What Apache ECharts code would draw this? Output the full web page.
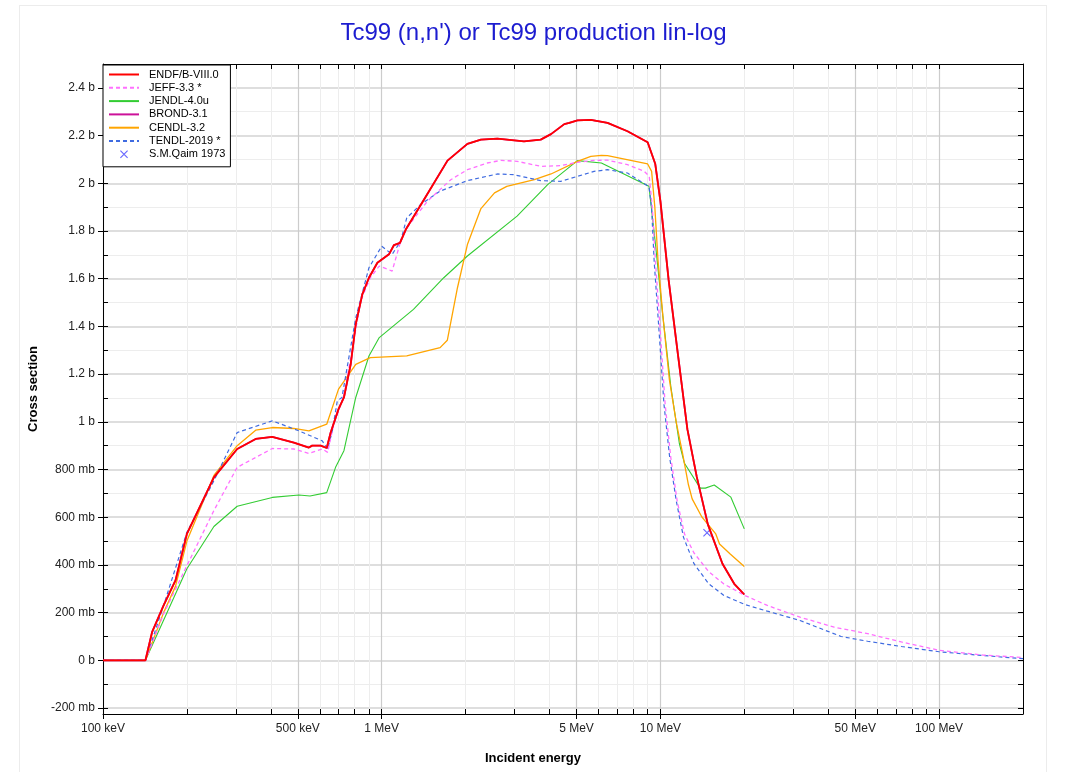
<!DOCTYPE html>
<html lang="en">
<head>
<meta charset="UTF-8">
<title>Tc99 (n,n') or Tc99 production lin-log</title>
<style>
html, body { margin: 0; padding: 0; background: #fff; }
#frame { position: absolute; left: 19px; top: 5px; width: 1026px; height: 800px; border: 1px solid #ececec; }
#chart { position: absolute; left: 0; top: 0; width: 1067px; height: 772px; }
</style>
</head>
<body>
<div id="frame"></div>
<div id="chart"></div>
<script src="https://cdn.jsdelivr.net/npm/echarts@6/dist/echarts.min.js"></script>
<script>
// energies in MeV, cross sections in mb
var endfE  = [0.1, 0.142, 0.150, 0.165, 0.182, 0.2, 0.25, 0.303, 0.353, 0.405, 0.484, 0.548, 0.563, 0.604, 0.635, 0.656, 0.70, 0.732, 0.774, 0.807, 0.852, 0.90, 0.965, 1.062, 1.107, 1.163, 1.22, 1.419, 1.722, 2.03, 2.27, 2.60, 3.24, 3.72, 4.05, 4.52, 4.71, 5.04, 5.63, 6.46, 7.62, 9.0, 9.58, 10.0, 10.7, 11.6, 12.5, 13.5, 14.8, 16.7, 18.4, 20.0];
var endfXS = [0, 0, 118, 230, 335, 530, 767, 886, 928, 937, 913, 892, 900, 900, 890, 955, 1053, 1102, 1241, 1409, 1534, 1604, 1667, 1702, 1741, 1750, 1806, 1932, 2095, 2165, 2183, 2187, 2176, 2183, 2206, 2248, 2253, 2264, 2266, 2253, 2218, 2172, 2082, 1925, 1596, 1268, 968, 770, 570, 405, 321, 276];

var jeffE  = [0.1, 0.142, 0.165, 0.2, 0.25, 0.303, 0.405, 0.484, 0.548, 0.612, 0.64, 0.673, 0.732, 0.794, 0.84, 0.91, 0.98, 1.09, 1.17, 1.23, 1.46, 1.77, 2.03, 2.39, 2.68, 3.06, 3.72, 4.39, 5.04, 5.78, 6.46, 7.62, 8.75, 9.12, 9.35, 9.6, 10.0, 10.4, 10.9, 11.5, 12.2, 13.2, 14.9, 16.9, 20.1, 24.2, 31.7, 42, 55.4, 73.2, 100, 144, 200];
var jeffXS = [0, 0, 195, 397, 628, 809, 888, 886, 867, 886, 872, 990, 1110, 1339, 1506, 1604, 1653, 1632, 1757, 1813, 1925, 2015, 2057, 2085, 2096, 2092, 2071, 2074, 2088, 2096, 2097, 2078, 2050, 2029, 1900, 1671, 1372, 1073, 849, 665, 530, 450, 372, 320, 272, 230, 181, 139, 112, 77, 42, 22, 12];

var jendlE  = [0.1, 0.142, 0.2, 0.25, 0.303, 0.405, 0.505, 0.553, 0.635, 0.683, 0.732, 0.807, 0.90, 0.98, 1.30, 1.67, 2.03, 3.06, 3.94, 5.04, 6.14, 9.1, 9.6, 10.2, 10.9, 11.7, 12.2, 13.9, 14.5, 15.6, 17.9, 20.0];
var jendlXS = [0, 0, 384, 561, 646, 683, 693, 689, 703, 809, 879, 1102, 1276, 1353, 1471, 1604, 1695, 1862, 1994, 2095, 2085, 1987, 1745, 1446, 1148, 908, 826, 722, 722, 735, 684, 551];

// BROND-3.1 lies under ENDF/B-VIII.0 in the plot
var brondE  = endfE;
var brondXS = endfXS;

var cendlE  = [0.1, 0.142, 0.165, 0.182, 0.2, 0.25, 0.303, 0.353, 0.405, 0.484, 0.548, 0.635, 0.70, 0.807, 0.91, 1.23, 1.62, 1.72, 1.87, 2.03, 2.27, 2.54, 2.81, 3.53, 4.05, 5.04, 5.63, 6.14, 6.46, 9.0, 9.3, 9.55, 9.8, 10.2, 10.77, 11.4, 12.0, 12.6, 13.0, 14.1, 15.8, 16.3, 17.8, 20.0];
var cendlXS = [0, 0, 200, 310, 500, 775, 900, 965, 976, 972, 962, 990, 1137, 1241, 1269, 1276, 1311, 1342, 1562, 1743, 1894, 1960, 1987, 2015, 2039, 2092, 2113, 2117, 2116, 2081, 2050, 1900, 1680, 1446, 1177, 998, 870, 737, 677, 600, 530, 488, 446, 393];

var tendlE  = [0.1, 0.142, 0.165, 0.2, 0.25, 0.303, 0.405, 0.505, 0.612, 0.64, 0.665, 0.693, 0.72, 0.807, 0.90, 1.0, 1.09, 1.17, 1.23, 1.38, 1.62, 2.03, 2.60, 2.97, 3.72, 4.39, 5.04, 5.78, 6.46, 7.62, 9.1, 9.3, 9.5, 9.9, 10.3, 10.8, 11.4, 12.1, 13.2, 14.9, 16.9, 20.1, 24.2, 31.7, 44.5, 55.4, 73.2, 100, 144, 200];
var tendlXS = [0, 0, 230, 537, 753, 955, 1004, 962, 920, 886, 962, 1088, 1102, 1436, 1646, 1736, 1702, 1757, 1855, 1911, 1967, 2011, 2039, 2036, 2011, 2008, 2029, 2050, 2057, 2043, 1985, 1895, 1671, 1372, 1073, 849, 669, 516, 405, 321, 272, 234, 206, 167, 100, 80, 58, 36, 20, 7];

var qaimE  = [14.7];
var qaimXS = [535];

// tick values
var xMajorTicks = [0.1, 0.5, 1, 5, 10, 50, 100];
var xMinorTicks = [0.1, 0.2, 0.3, 0.4, 0.5, 0.6, 0.7, 0.8, 0.9,
                   1, 2, 3, 4, 5, 6, 7, 8, 9,
                   10, 20, 30, 40, 50, 60, 70, 80, 90,
                   100, 200];
var yMajorTicks = [-200, 0, 200, 400, 600, 800, 1000, 1200, 1400, 1600, 1800, 2000, 2200, 2400];
var yMinorTicks = [-200, -100, 0, 100, 200, 300, 400, 500, 600, 700, 800, 900, 1000, 1100, 1200,
                   1300, 1400, 1500, 1600, 1700, 1800, 1900, 2000, 2100, 2200, 2300, 2400, 2500];

function zip(xs, ys) {
	return xs.map(function (x, i) { return [x, ys[i]]; });
}

var font = "'Liberation Sans', Arial, sans-serif";
var clear = 'rgba(0,0,0,0)';
var minorGrid = '#ededed';

function energyLabel(v) {
	var kev = Math.round(v * 1000);
	return kev < 1000 ? kev + ' keV' : Math.round(kev / 1000) + ' MeV';
}
function xsLabel(v) {
	if (v === 0) return '0 b';
	if (Math.abs(v) >= 1000) return (v / 1000) + ' b';
	return v + ' mb';
}
// legend entry for a line: no marker, only the line
function lineEntry(name) {
	return { name: name, itemStyle: { opacity: 0 } };
}

var xBase = { type: 'log', logBase: 10, min: 0.1, max: 200 };
var yBase = { type: 'value', min: -225, max: 2500 };

var myChart = echarts.init(document.getElementById('chart'));

var option = {
	animation: false,
	title: {
		text: "Tc99 (n,n') or Tc99 production lin-log",
		left: 'center',
		top: 16,
		textStyle: { color: '#1c1cd0', fontSize: 24, fontWeight: 'normal', fontFamily: font }
	},
	grid: { left: 103, right: 44, top: 64, bottom: 58, outerBoundsMode: 'none' },
	legend: {
		orient: 'vertical',
		left: 103,
		top: 65,
		backgroundColor: '#fff',
		borderColor: '#000',
		borderWidth: 1,
		borderRadius: 0,
		padding: [4, 5, 7, 5],
		itemWidth: 30,
		itemHeight: 8,
		itemGap: 2.3,
		textStyle: { fontSize: 11, lineHeight: 11, color: '#000', fontFamily: font, padding: [0, 0, 0, 5] },
		data: [
			lineEntry('ENDF/B-VIII.0'),
			lineEntry('JEFF-3.3 *'),
			lineEntry('JENDL-4.0u'),
			lineEntry('BROND-3.1'),
			lineEntry('CENDL-3.2'),
			lineEntry('TENDL-2019 *'),
			'S.M.Qaim 1973'
		]
	},
	xAxis: [
		Object.assign({}, xBase, {
			position: 'bottom',
			name: 'Incident energy',
			nameLocation: 'middle',
			nameGap: 38,
			nameTextStyle: { fontWeight: 'bold', fontSize: 13, color: '#000', fontFamily: font, padding: [0, 60, 0, 0] },
			axisLine: { show: true, onZero: false, lineStyle: { color: '#000', width: 1 } },
			axisTick: { show: true, inside: false, length: 5, customValues: xMajorTicks, lineStyle: { color: '#000' } },
			axisLabel: { customValues: xMajorTicks, formatter: energyLabel, margin: 9, color: '#222', fontSize: 12, fontFamily: font },
			splitLine: { show: true, lineStyle: { color: '#cccccc', width: 1.2 } }
		}),
		Object.assign({}, xBase, {
			position: 'bottom',
			axisLine: { show: false, onZero: false },
			axisTick: { show: true, inside: true, length: 5, customValues: xMinorTicks, lineStyle: { color: '#000' } },
			axisLabel: { show: false },
			splitLine: { show: true, lineStyle: { color: [clear, minorGrid, minorGrid, minorGrid, clear, minorGrid, minorGrid, minorGrid, minorGrid], width: 1 } }
		}),
		Object.assign({}, xBase, {
			position: 'top',
			axisLine: { show: true, onZero: false, lineStyle: { color: '#000', width: 1 } },
			axisTick: { show: true, inside: true, length: 5, customValues: xMinorTicks, lineStyle: { color: '#000' } },
			axisLabel: { show: false },
			splitLine: { show: false }
		})
	],
	yAxis: [
		Object.assign({}, yBase, {
			position: 'left',
			name: 'Cross section',
			nameLocation: 'middle',
			nameGap: 59,
			nameTextStyle: { fontWeight: 'bold', fontSize: 13, color: '#000', fontFamily: font },
			axisLine: { show: true, onZero: false, lineStyle: { color: '#000', width: 1 } },
			axisTick: { show: true, inside: false, length: 5, customValues: yMajorTicks, lineStyle: { color: '#000' } },
			axisLabel: { customValues: yMajorTicks, formatter: xsLabel, margin: 8, color: '#222', fontSize: 12, fontFamily: font },
			splitLine: { show: true, lineStyle: { color: '#d3d3d3', width: 1.5 } }
		}),
		Object.assign({}, yBase, {
			position: 'left',
			axisLine: { show: false, onZero: false },
			axisTick: { show: true, inside: true, length: 5, customValues: yMinorTicks, lineStyle: { color: '#000' } },
			axisLabel: { show: false },
			splitLine: { show: true, lineStyle: { color: [clear, minorGrid], width: 1 } }
		}),
		Object.assign({}, yBase, {
			position: 'right',
			axisLine: { show: true, onZero: false, lineStyle: { color: '#000', width: 1 } },
			axisTick: { show: true, inside: true, length: 5, customValues: yMinorTicks, lineStyle: { color: '#000' } },
			axisLabel: { show: false },
			splitLine: { show: false }
		})
	],
	series: [
		{ name: 'JENDL-4.0u', type: 'line', symbol: 'none', data: zip(jendlE, jendlXS),
		  lineStyle: { color: '#33cc33', width: 1.1 }, itemStyle: { color: '#33cc33' } },
		{ name: 'CENDL-3.2', type: 'line', symbol: 'none', data: zip(cendlE, cendlXS),
		  lineStyle: { color: '#ffa500', width: 1.3 }, itemStyle: { color: '#ffa500' } },
		{ name: 'TENDL-2019 *', type: 'line', symbol: 'none', data: zip(tendlE, tendlXS),
		  lineStyle: { color: '#3f6be0', width: 1.2, type: [4, 3] }, itemStyle: { color: '#3f6be0' } },
		{ name: 'JEFF-3.3 *', type: 'line', symbol: 'none', data: zip(jeffE, jeffXS),
		  lineStyle: { color: '#ff70ff', width: 1.3, type: [4, 3] }, itemStyle: { color: '#ff70ff' } },
		{ name: 'BROND-3.1', type: 'line', symbol: 'none', data: zip(brondE, brondXS),
		  lineStyle: { color: '#cc1199', width: 1.8 }, itemStyle: { color: '#cc1199' } },
		{ name: 'ENDF/B-VIII.0', type: 'line', symbol: 'none', data: zip(endfE, endfXS),
		  lineStyle: { color: '#ff0000', width: 1.8 }, itemStyle: { color: '#ff0000' } },
		{ name: 'S.M.Qaim 1973', type: 'scatter', data: zip(qaimE, qaimXS),
		  symbol: 'path://M0,1L1,0L10,9L9,10Z M9,0L10,1L1,10L0,9Z', symbolSize: 8,
		  itemStyle: { color: '#4040ff' } }
	]
};

myChart.setOption(option);
</script>
</body>
</html>
